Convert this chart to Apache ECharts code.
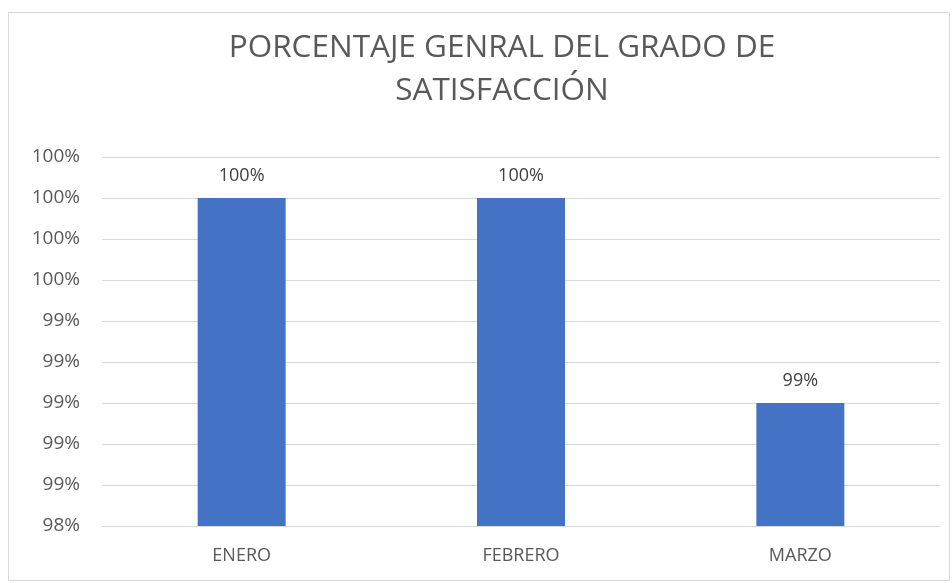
<!DOCTYPE html>
<html><head><meta charset="utf-8">
<script src="https://cdn.jsdelivr.net/npm/echarts@6/dist/echarts.min.js"></script>
<style>html,body{margin:0;padding:0;background:#fff}#c{width:952px;height:583px}</style>
</head><body><div id="c"></div>
<script>
const categories = ['ENERO', 'FEBRERO', 'MARZO'];
const values = [100, 100, 99];
const titleText = 'PORCENTAJE GENRAL DEL GRADO DE\nSATISFACCIÓN';
const yMin = 98.4, yMax = 100.2, yStep = 0.2;

const chart = echarts.init(document.getElementById('c'), null, {renderer: 'canvas'});
const font = '"Open Sans", sans-serif';
chart.setOption({
  animation: false,
  backgroundColor: '#fff',
  title: {
    text: titleText, left: 497, textAlign: 'center', top: 22,
    textStyle: {fontFamily: font, fontSize: 31.5, fontWeight: 'normal', color: '#595959', lineHeight: 43}
  },
  graphic: [{type: 'rect', shape: {x: 8.5, y: 12.5, width: 941, height: 568}, style: {fill: 'none', stroke: '#d9d9d9', lineWidth: 1}, silent: true}],
  grid: {left: 102, right: 12, top: 157, bottom: 57},
  xAxis: {
    type: 'category', data: categories,
    axisTick: {show: false},
    axisLine: {lineStyle: {color: '#d9d9d9'}},
    axisLabel: {color: '#595959', fontFamily: font, fontSize: 18, margin: 21}
  },
  yAxis: {
    type: 'value', min: yMin, max: yMax, interval: yStep,
    axisLine: {show: false}, axisTick: {show: false},
    splitLine: {lineStyle: {color: '#d9d9d9'}},
    axisLabel: {color: '#595959', fontFamily: font, fontSize: 19, margin: 22,
      formatter: v => Math.round(v) + '%'}
  },
  series: [{
    type: 'bar', data: values, barWidth: '31.5%',
    itemStyle: {color: '#4472C4'},
    label: {show: true, position: 'top', distance: 13, color: '#404040', fontFamily: font, fontSize: 18,
      formatter: p => Math.round(p.value) + '%'}
  }]
});
</script></body></html>
